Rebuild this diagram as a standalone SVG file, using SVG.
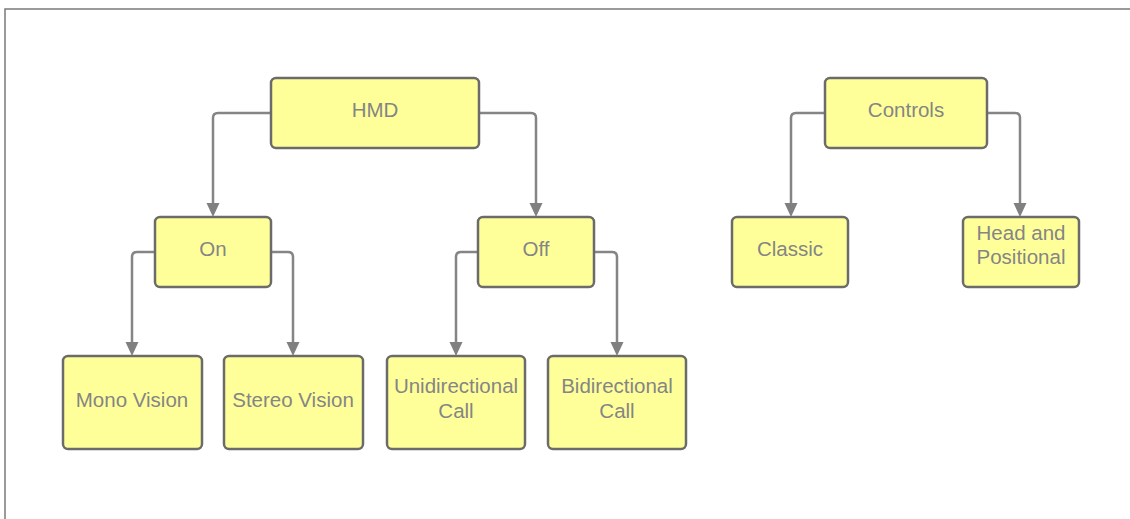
<svg xmlns="http://www.w3.org/2000/svg" width="1130" height="519" viewBox="0 0 1130 519">
  <style>
    .box { fill: #ffff99; stroke: #6b6b6b; stroke-width: 2.5; }
    .lbl { font-family: "Liberation Sans", Arial, sans-serif; font-size: 20.5px; fill: #858585; text-anchor: middle; }
    .wire { fill: none; stroke: #858585; stroke-width: 2.5; }
    .frame { fill: none; stroke: #7a7a7a; stroke-width: 1.5; }
    .head { fill: #808080; }
  </style>
  <rect width="1130" height="519" fill="#ffffff"/>
  <path class="frame" d="M1130,9 L5,9 L5,519"/>

  <g id="connectors">
    <!-- HMD branches -->
    <path class="wire" d="M271,113 H218 Q213,113 213,118 V204" />
    <path class="wire" d="M479,113 H531 Q536,113 536,118 V204" />
    <!-- On branches -->
    <path class="wire" d="M155,252 H137 Q132,252 132,257 V343" />
    <path class="wire" d="M271,252 H288 Q293,252 293,257 V343" />
    <!-- Off branches -->
    <path class="wire" d="M478,252 H461 Q456,252 456,257 V343" />
    <path class="wire" d="M594,252 H612 Q617,252 617,257 V343" />
    <!-- Controls branches -->
    <path class="wire" d="M825,113 H796 Q791,113 791,118 V204" />
    <path class="wire" d="M987,113 H1015 Q1020,113 1020,118 V204" />
    <!-- arrowheads -->
    <path class="head" d="M206.5,203 H219.5 L213,217 Z"/>
    <path class="head" d="M529.5,203 H542.5 L536,217 Z"/>
    <path class="head" d="M125.5,342 H138.5 L132,356 Z"/>
    <path class="head" d="M286.5,342 H299.5 L293,356 Z"/>
    <path class="head" d="M449.5,342 H462.5 L456,356 Z"/>
    <path class="head" d="M610.5,342 H623.5 L617,356 Z"/>
    <path class="head" d="M784.5,203 H797.5 L791,217 Z"/>
    <path class="head" d="M1013.5,203 H1026.5 L1020,217 Z"/>
  </g>

  <g id="hmd">
    <rect class="box" x="271" y="78" width="208" height="70" rx="5"/>
    <text class="lbl" x="375" y="117">HMD</text>
  </g>
  <g id="controls">
    <rect class="box" x="825" y="78" width="162" height="70" rx="5"/>
    <text class="lbl" x="906" y="117">Controls</text>
  </g>
  <g id="on">
    <rect class="box" x="155" y="217" width="116" height="70" rx="5"/>
    <text class="lbl" x="213" y="256">On</text>
  </g>
  <g id="off">
    <rect class="box" x="478" y="217" width="116" height="70" rx="5"/>
    <text class="lbl" x="536" y="256">Off</text>
  </g>
  <g id="classic">
    <rect class="box" x="732" y="217" width="116" height="70" rx="5"/>
    <text class="lbl" x="790" y="256">Classic</text>
  </g>
  <g id="head-positional">
    <rect class="box" x="963" y="217" width="116" height="70" rx="5"/>
    <text class="lbl" x="1021" y="240">Head and</text>
    <text class="lbl" x="1021" y="264">Positional</text>
  </g>
  <g id="mono-vision">
    <rect class="box" x="63" y="356" width="139" height="93" rx="5"/>
    <text class="lbl" x="132" y="407">Mono Vision</text>
  </g>
  <g id="stereo-vision">
    <rect class="box" x="224" y="356" width="139" height="93" rx="5"/>
    <text class="lbl" x="293" y="407">Stereo Vision</text>
  </g>
  <g id="unidirectional-call">
    <rect class="box" x="387" y="356" width="138" height="93" rx="5"/>
    <text class="lbl" x="456" y="393">Unidirectional</text>
    <text class="lbl" x="456" y="418">Call</text>
  </g>
  <g id="bidirectional-call">
    <rect class="box" x="548" y="356" width="138" height="93" rx="5"/>
    <text class="lbl" x="617" y="393">Bidirectional</text>
    <text class="lbl" x="617" y="418">Call</text>
  </g>
</svg>
